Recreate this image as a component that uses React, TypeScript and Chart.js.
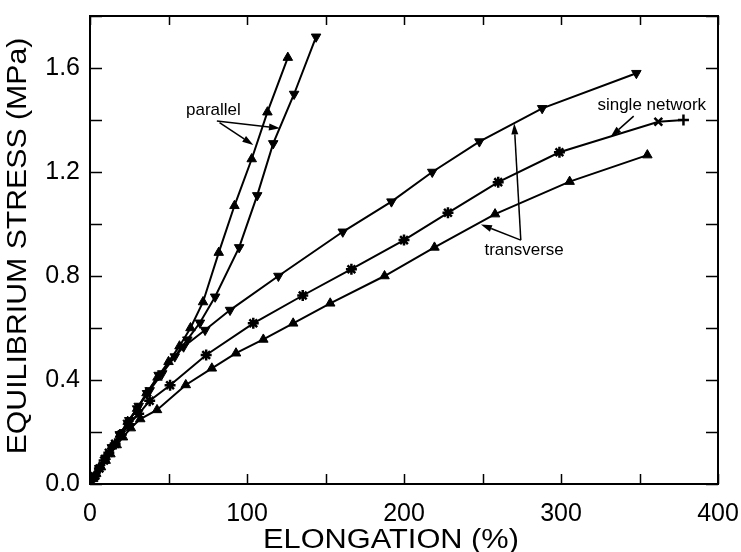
import { useEffect, useRef } from "react";
import { Chart, registerables } from "chart.js";

Chart.register(...registerables);

// ---- data (elongation %, equilibrium stress MPa) ----
const parallelUpX = [0, 3, 6, 10, 14, 19, 24, 30, 36, 43, 50, 57, 64, 72, 82, 92, 103, 113, 126];
const parallelUpY = [0, 0.03, 0.065, 0.105, 0.145, 0.19, 0.24, 0.29, 0.35, 0.41, 0.47, 0.53, 0.6, 0.7, 0.89, 1.07, 1.25, 1.43, 1.64];

const parallelDownX = [0, 3, 6, 10, 14, 19, 25, 31, 38, 46, 54, 62, 70, 79.7, 95, 106.5, 116.7, 130, 144];
const parallelDownY = [0, 0.03, 0.06, 0.1, 0.14, 0.19, 0.245, 0.3, 0.36, 0.425, 0.49, 0.555, 0.62, 0.72, 0.91, 1.11, 1.31, 1.5, 1.72];

const transDownX = [0, 3, 6, 10, 14, 19, 24, 30, 36.3, 43.7, 59.6, 73.3, 89.2, 120, 161, 192, 218, 248, 288, 348];
const transDownY = [0, 0.03, 0.06, 0.1, 0.14, 0.19, 0.235, 0.29, 0.349, 0.419, 0.528, 0.592, 0.669, 0.8, 0.97, 1.086, 1.2, 1.317, 1.445, 1.58];

const singleX = [0, 3, 6, 9, 12, 16, 20, 25, 31, 38, 51, 74, 104, 135.5, 166.5, 200, 228, 260, 299, 362, 378];
const singleY = [0, 0.03, 0.06, 0.09, 0.12, 0.155, 0.19, 0.23, 0.27, 0.32, 0.38, 0.496, 0.618, 0.725, 0.826, 0.938, 1.043, 1.161, 1.276, 1.393, 1.4];

const transUpX = [0, 2, 4, 7, 10, 13, 17, 21, 26, 32, 42.7, 61, 77.6, 93, 110.4, 129.4, 153, 187.6, 219.4, 258, 305.5, 355];
const transUpY = [0, 0.02, 0.04, 0.065, 0.09, 0.115, 0.15, 0.18, 0.215, 0.25, 0.285, 0.381, 0.445, 0.503, 0.556, 0.618, 0.695, 0.8, 0.91, 1.038, 1.163, 1.265];

// ---- axis ticks ----
const xTickLabels = [0, 100, 200, 300, 400];
const yTickLabels = [0.0, 0.4, 0.8, 1.2, 1.6];
const xMinorStep = 50;
const yMinorStep = 0.2;

const X_TITLE = "ELONGATION (%)";
const Y_TITLE = "EQUILIBRIUM STRESS (MPa)";

const FONT = "'Liberation Sans', Arial, Helvetica, sans-serif";

// ---- annotations (data coordinates) ----
const labels = [
  { text: "parallel", x: 78.6, y: 1.438 },
  { text: "single network", x: 357.8, y: 1.455 },
  { text: "transverse", x: 276.5, y: 0.897 },
];
const arrows = [
  { fx: 80.8, fy: 1.396, tx: 121, ty: 1.368 },
  { fx: 82.5, fy: 1.39, tx: 104, ty: 1.304 },
  { fx: 346.3, fy: 1.415, tx: 331.6, ty: 1.336 },
  { fx: 274.4, fy: 0.938, tx: 270.2, ty: 1.387 },
  { fx: 274.4, fy: 0.938, tx: 249, ty: 0.998 },
];

const pts = (xs: number[], ys: number[]) => xs.map((x, i) => ({ x, y: ys[i] }));

const framePlugin = {
  id: "frameTicksNotes",
  afterDraw(chart: any) {
    const { ctx, chartArea: a, scales } = chart;
    const xs = scales.x;
    const ys = scales.y;
    ctx.save();
    ctx.strokeStyle = "#000";
    ctx.fillStyle = "#000";
    ctx.lineWidth = 2;
    ctx.strokeRect(a.left, a.top, a.right - a.left, a.bottom - a.top);
    ctx.lineWidth = 1.5;
    ctx.beginPath();
    for (let v = 0; v <= 400 + 1e-9; v += xMinorStep) {
      const p = Math.round(xs.getPixelForValue(v)) + 0.5;
      ctx.moveTo(p, a.bottom);
      ctx.lineTo(p, a.bottom - 10);
      ctx.moveTo(p, a.top);
      ctx.lineTo(p, a.top + 9);
    }
    for (let v = 0; v <= 1.8 + 1e-9; v += yMinorStep) {
      const p = Math.round(ys.getPixelForValue(v)) + 0.5;
      ctx.moveTo(a.left, p);
      ctx.lineTo(a.left + 12, p);
      ctx.moveTo(a.right, p);
      ctx.lineTo(a.right - 12, p);
    }
    ctx.stroke();

    // axis titles (slightly widened like the scanned original)
    ctx.textAlign = "center";
    ctx.textBaseline = "middle";
    ctx.font = `27px ${FONT}`;
    ctx.save();
    ctx.translate((a.left + a.right) / 2 - 13, 541);
    ctx.scale(1.14, 1);
    ctx.fillText(X_TITLE, 0, 0);
    ctx.restore();
    ctx.save();
    ctx.translate(19, (a.top + a.bottom) / 2 - 4);
    ctx.rotate(-Math.PI / 2);
    ctx.scale(1.12, 1);
    ctx.fillText(Y_TITLE, 0, 0);
    ctx.restore();

    ctx.font = `17px ${FONT}`;
    for (const l of labels) {
      ctx.fillText(l.text, xs.getPixelForValue(l.x), ys.getPixelForValue(l.y));
    }
    ctx.lineWidth = 1.5;
    for (const ar of arrows) {
      const x1 = xs.getPixelForValue(ar.fx);
      const y1 = ys.getPixelForValue(ar.fy);
      const x2 = xs.getPixelForValue(ar.tx);
      const y2 = ys.getPixelForValue(ar.ty);
      const ang = Math.atan2(y2 - y1, x2 - x1);
      const hl = 11;
      const hw = 3.5;
      const bx = x2 - hl * Math.cos(ang);
      const by = y2 - hl * Math.sin(ang);
      ctx.beginPath();
      ctx.moveTo(x1, y1);
      ctx.lineTo(bx, by);
      ctx.stroke();
      ctx.beginPath();
      ctx.moveTo(x2, y2);
      ctx.lineTo(bx + hw * Math.sin(ang), by - hw * Math.cos(ang));
      ctx.lineTo(bx - hw * Math.sin(ang), by + hw * Math.cos(ang));
      ctx.closePath();
      ctx.fill();
    }
    ctx.restore();
  },
};

export default function App() {
  const ref = useRef<HTMLCanvasElement | null>(null);

  useEffect(() => {
    if (!ref.current) return;
    const common = {
      borderColor: "#000",
      backgroundColor: "#000",
      pointBackgroundColor: "#000",
      pointBorderColor: "#000",
      borderWidth: 2,
      pointRadius: 5.5,
      pointBorderWidth: 1,
      tension: 0,
      fill: false,
    };
    const nS = singleX.length;
    const chart = new Chart(ref.current, {
      type: "line",
      data: {
        datasets: [
          { ...common, label: "parallel (up)", data: pts(parallelUpX, parallelUpY), pointStyle: "triangle" },
          { ...common, label: "parallel (down)", data: pts(parallelDownX, parallelDownY), pointStyle: "triangle", pointRotation: 180 },
          { ...common, label: "transverse (down)", data: pts(transDownX, transDownY), pointStyle: "triangle", pointRotation: 180 },
          {
            ...common,
            label: "single network",
            data: pts(singleX, singleY),
            pointBorderWidth: 2.5,
            pointStyle: singleX.map((_, i) => (i === nS - 1 ? "cross" : i === nS - 2 ? "crossRot" : "star")),
          },
          { ...common, label: "transverse (up)", data: pts(transUpX, transUpY), pointStyle: "triangle" },
        ],
      },
      options: {
        animation: false,
        responsive: false,
        layout: { padding: { top: 16, right: 23, left: 0, bottom: 0 } },
        plugins: { legend: { display: false }, tooltip: { enabled: false } },
        scales: {
          x: {
            type: "linear",
            min: 0,
            max: 400,
            grid: { display: false, drawTicks: false },
            border: { display: false },
            afterBuildTicks: (s: any) => {
              s.ticks = xTickLabels.map((v) => ({ value: v }));
            },
            afterFit: (s: any) => {
              s.height = 68;
              s.paddingLeft = 0;
              s.paddingRight = 0;
              s.paddingTop = 0;
              s.paddingBottom = 0;
            },
            ticks: {
              color: "#000",
              font: { family: FONT, size: 25 },
              padding: 15,
              maxRotation: 0,
              callback: (v: any) => String(v),
            },
            title: { display: false, text: X_TITLE },
          },
          y: {
            type: "linear",
            min: 0,
            max: 1.8,
            grid: { display: false, drawTicks: false },
            border: { display: false },
            afterBuildTicks: (s: any) => {
              s.ticks = yTickLabels.map((v) => ({ value: v }));
            },
            afterFit: (s: any) => {
              s.width = 90;
              s.paddingLeft = 0;
              s.paddingRight = 0;
              s.paddingTop = 0;
              s.paddingBottom = 0;
            },
            ticks: {
              color: "#000",
              font: { family: FONT, size: 25 },
              padding: 10,
              callback: (v: any) => Number(v).toFixed(1),
            },
            title: { display: false, text: Y_TITLE },
          },
        },
      },
      plugins: [framePlugin],
    });
    return () => chart.destroy();
  }, []);

  return (
    <div style={{ position: "fixed", left: 0, top: 0, width: 741, height: 552, background: "#fff" }}>
      <canvas ref={ref} width={741} height={552} style={{ width: 741, height: 552 }} />
    </div>
  );
}
